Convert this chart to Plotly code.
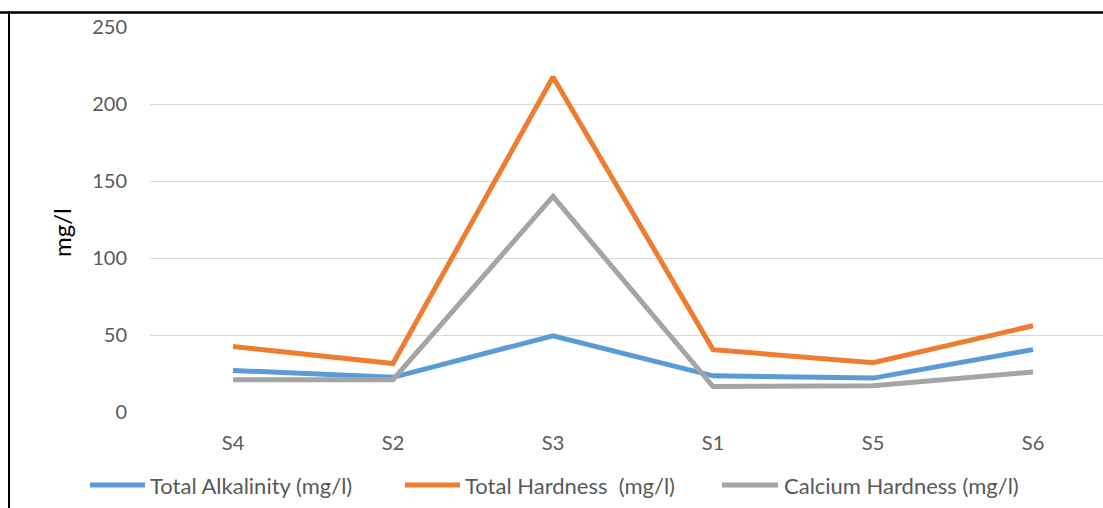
import plotly.graph_objects as go

sites = ["S4", "S2", "S3", "S1", "S5", "S6"]
total_alkalinity = [27, 22.5, 49.5, 23.5, 22, 40.5]
total_hardness = [42.5, 31.5, 217.5, 40.5, 32, 56]
calcium_hardness = [21, 21, 140, 16.5, 17, 26]
series_names = ["Total Alkalinity (mg/l)", "Total Hardness  (mg/l)", "Calcium Hardness (mg/l)"]
series_colors = ["#5B9BD5", "#ED7D31", "#A5A5A5"]
series_values = [total_alkalinity, total_hardness, calcium_hardness]

W, H = 1103, 508
ML, MR, MT, MB = 150, 0, 27, 96
PW = W - ML - MR
PH = H - MT - MB
FONT = "Lato, 'Open Sans', sans-serif"

fig = go.Figure()
for name, vals, col in zip(series_names, series_values, series_colors):
    fig.add_trace(go.Scatter(
        x=list(range(len(sites))), y=vals, mode="lines", name=name,
        line=dict(color=col, width=5, shape="linear"), showlegend=False,
    ))

r0 = -83 / 160
r1 = r0 + PW / 160

def px_x(p):
    return (p - ML) / PW

def px_y(p):
    return (MT + PH - p) / PH

# legend (drawn manually to match item spacing)
leg_y = 485
leg_items = [(90, 145, 148), (405, 460, 463), (722, 778, 782)]
shapes = [
    dict(type="line", xref="paper", yref="paper",
         x0=px_x(0), x1=px_x(W), y0=px_y(12.5), y1=px_y(12.5),
         line=dict(color="black", width=2.5)),
    dict(type="line", xref="paper", yref="paper",
         x0=px_x(9), x1=px_x(9), y0=px_y(11.5), y1=px_y(H),
         line=dict(color="black", width=2)),
]
annotations = [
    dict(text="mg/l", xref="paper", yref="paper", x=px_x(62), y=px_y(233),
         showarrow=False, textangle=-90, xanchor="center", yanchor="middle",
         font=dict(family=FONT, size=24, color="black")),
]
for (a, b, t), name, col in zip(leg_items, series_names, series_colors):
    shapes.append(dict(type="line", xref="paper", yref="paper",
                       x0=px_x(a), x1=px_x(b), y0=px_y(leg_y), y1=px_y(leg_y),
                       line=dict(color=col, width=5)))
    annotations.append(dict(text=name.replace("  ", "\u00a0 "), xref="paper", yref="paper",
                            x=px_x(t), y=px_y(leg_y), showarrow=False,
                            xanchor="left", yanchor="middle",
                            font=dict(family=FONT, size=22, color="#595959")))

fig.update_layout(
    width=W, height=H,
    margin=dict(l=ML, r=MR, t=MT, b=MB, autoexpand=False),
    paper_bgcolor="white", plot_bgcolor="white",
    font=dict(family=FONT, size=20, color="#595959"),
    showlegend=False,
    xaxis=dict(range=[r0, r1], tickvals=list(range(len(sites))), ticktext=sites,
               showgrid=False, zeroline=False, showline=False, ticks="",
               ticklabelstandoff=17, fixedrange=True),
    yaxis=dict(range=[0, 250], tickvals=[0, 50, 100, 150, 200, 250],
               showgrid=True, gridcolor="#D9D9D9", gridwidth=1.3,
               zeroline=False, showline=False, ticks="",
               ticklabelstandoff=22, fixedrange=True),
    shapes=shapes,
    annotations=annotations,
)

fig.write_html("out.html")
